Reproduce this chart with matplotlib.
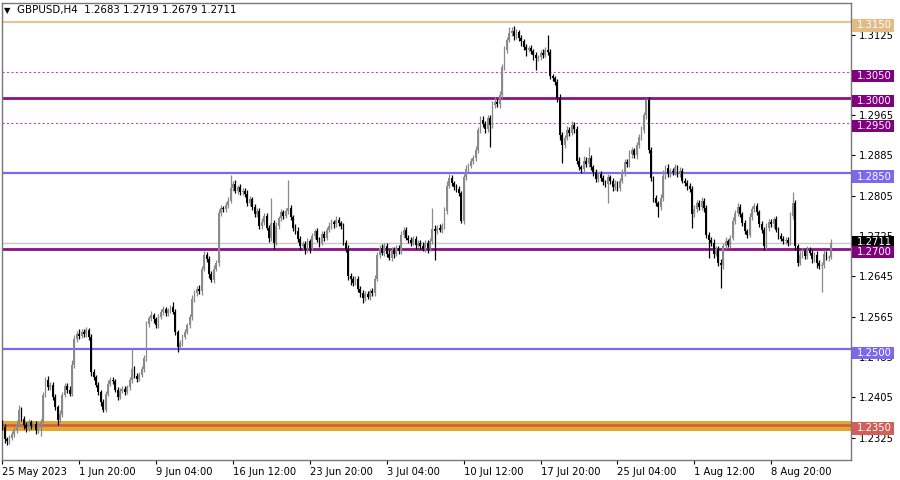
import numpy as np
import matplotlib
matplotlib.use("Agg")
import matplotlib.pyplot as plt
from matplotlib import transforms
from matplotlib.patches import Rectangle

# closes in pips above 1.2000, one per H4 bar
closes = [
    345, 322, 318, 325, 333, 340, 352, 380, 362, 350,
    343, 355, 348, 352, 340, 350, 356, 410, 440, 425,
    430, 405, 385, 360, 372, 410, 428, 420, 412, 470,
    520, 530, 527, 535, 530, 538, 525, 455, 445, 430,
    415, 395, 380, 412, 432, 440, 438, 420, 405, 418,
    422, 415, 425, 440, 462, 448, 442, 450, 462, 482,
    550, 562, 568, 560, 548, 565, 575, 580, 572, 578,
    585, 575, 535, 505, 512, 525, 535, 548, 565, 600,
    612, 620, 615, 660, 688, 680, 650, 638, 660, 672,
    770, 780, 778, 786, 795, 820, 828, 815, 822, 812,
    815, 808, 790, 798, 782, 768, 775, 745, 752, 765,
    742, 722, 750, 712, 745, 760, 772, 765, 775, 780,
    762, 742, 735, 720, 705, 710, 698, 715, 702, 725,
    735, 718, 712, 730, 722, 738, 745, 752, 748, 756,
    750, 745, 712, 700, 645, 640, 632, 640, 620, 612,
    603, 610, 605, 615, 612, 640, 688, 702, 692, 705,
    690, 682, 698, 690, 702, 695, 728, 738, 722, 718,
    712, 720, 708, 712, 705, 700, 712, 702, 715, 740,
    735, 742, 738, 745, 775, 825, 840, 830, 822, 818,
    810, 755, 842, 858, 865, 875, 880, 895, 935, 955,
    948, 938, 960, 945, 985, 992, 988, 1005, 1060, 1095,
    1115, 1128, 1132, 1122, 1130, 1118, 1112, 1100, 1095, 1098,
    1092, 1085, 1078, 1080, 1088, 1085, 1095, 1090, 1042, 1038,
    1030, 1000, 925, 905, 920, 935, 930, 945, 938, 875,
    862, 858, 875, 868, 880, 862, 852, 838, 848, 840,
    832, 828, 842, 835, 822, 828, 820, 835, 850, 872,
    868, 888, 895, 885, 905, 922, 935, 965, 995, 895,
    840, 800, 790, 783, 800, 845, 860, 848, 855, 852,
    862, 848, 855, 835, 830, 825, 818, 768, 778, 790,
    782, 795, 780, 728, 718, 712, 690, 700, 672, 668,
    705, 715, 708, 722, 755, 770, 782, 768, 750, 735,
    728, 762, 778, 785, 772, 748, 738, 705, 742, 752,
    748, 758, 738, 725, 720, 715, 718, 712, 765, 790,
    705, 672, 688, 695, 685, 698, 692, 680, 688, 672,
    665, 668, 690, 682, 683, 711,
]
first_open = 352

# wick lengths in pips above max(open, close) and below min(open, close)
upper_wick = [
    8, 6, 5, 6, 5, 6, 8, 10, 6, 5,
    5, 6, 5, 4, 6, 5, 6, 5, 5, 8,
    6, 5, 6, 5, 8, 6, 5, 6, 8, 8,
    8, 6, 10, 5, 6, 6, 5, 5, 6, 4,
    5, 4, 6, 5, 8, 6, 5, 4, 6, 5,
    5, 6, 5, 6, 41, 5, 6, 5, 5, 6,
    6, 5, 8, 5, 4, 6, 5, 6, 5, 4,
    4, 9, 5, 4, 6, 5, 6, 5, 6, 8,
    6, 5, 8, 6, 8, 5, 6, 5, 8, 6,
    8, 6, 5, 6, 8, 26, 6, 8, 5, 6,
    6, 5, 8, 6, 5, 6, 5, 6, 8, 5,
    6, 5, 50, 6, 8, 5, 6, 5, 6, 56,
    6, 5, 6, 8, 5, 6, 5, 6, 5, 6,
    5, 6, 5, 6, 5, 6, 8, 6, 5, 8,
    6, 5, 6, 5, 8, 6, 5, 6, 5, 6,
    6, 5, 6, 5, 6, 8, 6, 5, 8, 6,
    6, 8, 5, 6, 5, 6, 8, 6, 5, 6,
    5, 6, 5, 6, 5, 8, 6, 5, 6, 41,
    6, 5, 6, 5, 8, 10, 8, 6, 5, 6,
    6, 5, 6, 8, 6, 5, 6, 8, 6, 8,
    8, 6, 5, 6, 8, 10, 6, 8, 6, 8,
    6, 12, 8, 10, 6, 5, 6, 5, 6, 5,
    6, 5, 6, 5, 6, 8, 6, 29, 6, 5,
    5, 6, 8, 6, 5, 8, 6, 8, 6, 5,
    6, 5, 8, 6, 22, 6, 5, 6, 5, 6,
    6, 5, 6, 5, 6, 8, 6, 5, 8, 6,
    6, 8, 6, 5, 6, 5, 8, 6, 5, 6,
    6, 5, 6, 5, 8, 12, 6, 8, 6, 5,
    6, 5, 8, 6, 5, 6, 5, 6, 8, 6,
    6, 8, 5, 6, 5, 6, 8, 6, 5, 8,
    6, 8, 5, 6, 8, 6, 8, 6, 5, 6,
    5, 8, 6, 5, 6, 5, 6, 5, 8, 6,
    6, 5, 6, 5, 6, 5, 6, 5, 8, 22,
    6, 5, 8, 6, 5, 8, 6, 5, 6, 8,
    6, 5, 8, 6, 5, 8,
]
lower_wick = [
    6, 8, 8, 5, 4, 6, 5, 6, 5, 8,
    6, 5, 6, 5, 8, 5, 22, 6, 5, 6,
    5, 6, 6, 10, 5, 6, 5, 6, 5, 5,
    6, 5, 6, 5, 6, 5, 6, 8, 6, 5,
    6, 8, 5, 5, 4, 5, 6, 5, 6, 4,
    5, 6, 4, 5, 6, 5, 6, 5, 4, 6,
    5, 6, 5, 8, 6, 5, 4, 6, 5, 6,
    6, 5, 6, 10, 5, 6, 5, 4, 5, 6,
    5, 6, 5, 6, 5, 6, 8, 5, 6, 5,
    6, 5, 6, 5, 6, 5, 6, 5, 6, 5,
    5, 6, 5, 6, 5, 6, 5, 6, 5, 6,
    5, 8, 6, 12, 5, 6, 5, 6, 5, 6,
    5, 6, 5, 6, 8, 6, 8, 5, 10, 5,
    6, 5, 8, 5, 6, 5, 4, 5, 6, 5,
    5, 6, 5, 6, 8, 12, 6, 5, 6, 8,
    10, 6, 5, 6, 5, 6, 5, 6, 5, 6,
    6, 5, 6, 8, 5, 6, 5, 6, 5, 6,
    6, 5, 8, 5, 6, 5, 6, 10, 6, 5,
    58, 6, 5, 6, 5, 6, 5, 6, 5, 6,
    6, 5, 6, 5, 6, 5, 6, 5, 6, 5,
    6, 8, 6, 43, 6, 5, 6, 8, 6, 5,
    6, 5, 6, 8, 5, 6, 10, 6, 12, 5,
    6, 10, 23, 6, 5, 6, 5, 6, 5, 6,
    6, 8, 10, 35, 6, 5, 6, 5, 8, 6,
    5, 8, 6, 5, 6, 5, 8, 6, 5, 6,
    5, 6, 38, 6, 8, 6, 5, 6, 5, 6,
    5, 6, 8, 5, 6, 5, 6, 5, 8, 6,
    6, 8, 5, 20, 6, 5, 6, 5, 6, 5,
    6, 5, 6, 5, 6, 8, 6, 27, 6, 5,
    6, 5, 8, 6, 37, 6, 8, 5, 6, 46,
    8, 6, 5, 6, 5, 6, 5, 6, 5, 6,
    6, 5, 6, 5, 6, 5, 6, 8, 5, 6,
    5, 6, 5, 6, 5, 6, 5, 6, 5, 6,
    8, 6, 5, 6, 5, 6, 5, 8, 6, 10,
    6, 51, 6, 5, 6, 4,
]

tick_bars = [0, 32, 64, 96, 128, 160, 192, 224, 256, 288, 320]
tick_labels = ["25 May 2023", "1 Jun 20:00", "9 Jun 04:00", "16 Jun 12:00",
               "23 Jun 20:00", "3 Jul 04:00", "10 Jul 12:00", "17 Jul 20:00",
               "25 Jul 04:00", "1 Aug 12:00", "8 Aug 20:00"]
# 1.3045 sits fully under the 1.3050 box, so it is left out
price_ticks = [1.2325, 1.2405, 1.2485, 1.2565, 1.2645, 1.2725,
               1.2805, 1.2885, 1.2965, 1.3125]

# horizontal levels: price, colour, width, style, label box colour
levels = [
    (1.3150, "#e9c392", 1.5, "-", "#e4bb86"),
    (1.3050, "#b050b8", 0.8, (0, (2, 2)), "#800080"),
    (1.3000, "#8b108b", 2.0, "-", "#800080"),
    (1.2950, "#b050b8", 0.8, (0, (2, 2)), "#800080"),
    (1.2850, "#7b68ee", 1.6, "-", "#7b68ee"),
    (1.2700, "#8b108b", 2.0, "-", "#800080"),
    (1.2500, "#7b68ee", 1.6, "-", "#7b68ee"),
]
support_band = (1.2338, 1.2358)
support_level = 1.2350

c = 1.2 + np.array(closes) / 10000.0
o = np.concatenate([[1.2 + first_open / 10000.0], c[:-1]])
h = np.maximum(o, c) + np.array(upper_wick) / 10000.0
l = np.minimum(o, c) - np.array(lower_wick) / 10000.0
x = np.arange(len(c))
last = c[-1]

W, H = 900, 480
px_per_price = 5037.0
ymin, ymax = 1.228043, 1.318772

fig = plt.figure(figsize=(W / 100, H / 100), dpi=100)
fig.patch.set_facecolor("white")
ax = fig.add_axes([2 / W, 20 / H, 849 / W, 457 / H])
ax.set_xlim(-0.1, 353.2)
ax.set_ylim(ymin, ymax)

# levels
ax.axhspan(*support_band, color="#e2a92e", lw=0, zorder=1)
ax.axhline(support_level, color="#d4574e", lw=1.8, zorder=1)
for p, col, lw, ls, _ in levels:
    ax.axhline(p, color=col, lw=lw, ls=ls, zorder=1)
ax.axhline(last, color="#c8c8c8", lw=1, zorder=1)

# candles
up = c >= o
body = np.maximum(np.abs(c - o), 0.00006)
for mask, col in [(up, "#8a8a8a"), (~up, "#000000")]:
    ax.vlines(x[mask], l[mask], h[mask], color=col, lw=0.9, zorder=3)
    ax.bar(x[mask], body[mask], bottom=np.minimum(o, c)[mask], width=0.75,
           color=col, lw=0, zorder=4)

for s in ax.spines.values():
    s.set_color("#777777")
    s.set_linewidth(1)

ax.yaxis.tick_right()
ax.set_yticks(price_ticks)
ax.set_yticklabels([f"{p:.4f}" for p in price_ticks])
ax.tick_params(axis="y", labelsize=7.2, length=3, pad=3, colors="black")
ax.set_xticks(tick_bars)
ax.set_xticklabels(tick_labels, ha="left")
ax.tick_params(axis="x", labelsize=7.2, length=3, pad=2, colors="black")

# right-side price boxes (shifted a little below their lines, as in the terminal)
blend = transforms.blended_transform_factory(fig.transFigure, ax.transData)
box_h = 12.5 / px_per_price
boxes = [(last, "#000000", -1.0)] + [(p, bc, 3.5) for p, _, _, _, bc in levels] \
    + [(support_level, "#cf605a", 3.5)]
for p, bc, shift in boxes:
    pc = p - shift / px_per_price
    ax.add_artist(Rectangle((852 / W, pc - box_h / 2), 42 / W, box_h, transform=blend,
                            facecolor=bc, edgecolor="none", clip_on=False, zorder=10))
    ax.text(857 / W, pc, f"{p:.4f}", transform=blend, color="white", fontsize=7.2,
            va="center", ha="left", clip_on=False, zorder=11)

header = f"GBPUSD,H4  {o[-1]:.4f} {h[-1]:.4f} {l[-1]:.4f} {c[-1]:.4f}"
fig.text(4 / W, 1 - 10.5 / H, "\u25bc", fontsize=6, va="center", ha="left")
fig.text(17 / W, 1 - 10.5 / H, header, fontsize=7.4, va="center", ha="left")

fig.savefig("out.png", dpi=100, facecolor="white")
